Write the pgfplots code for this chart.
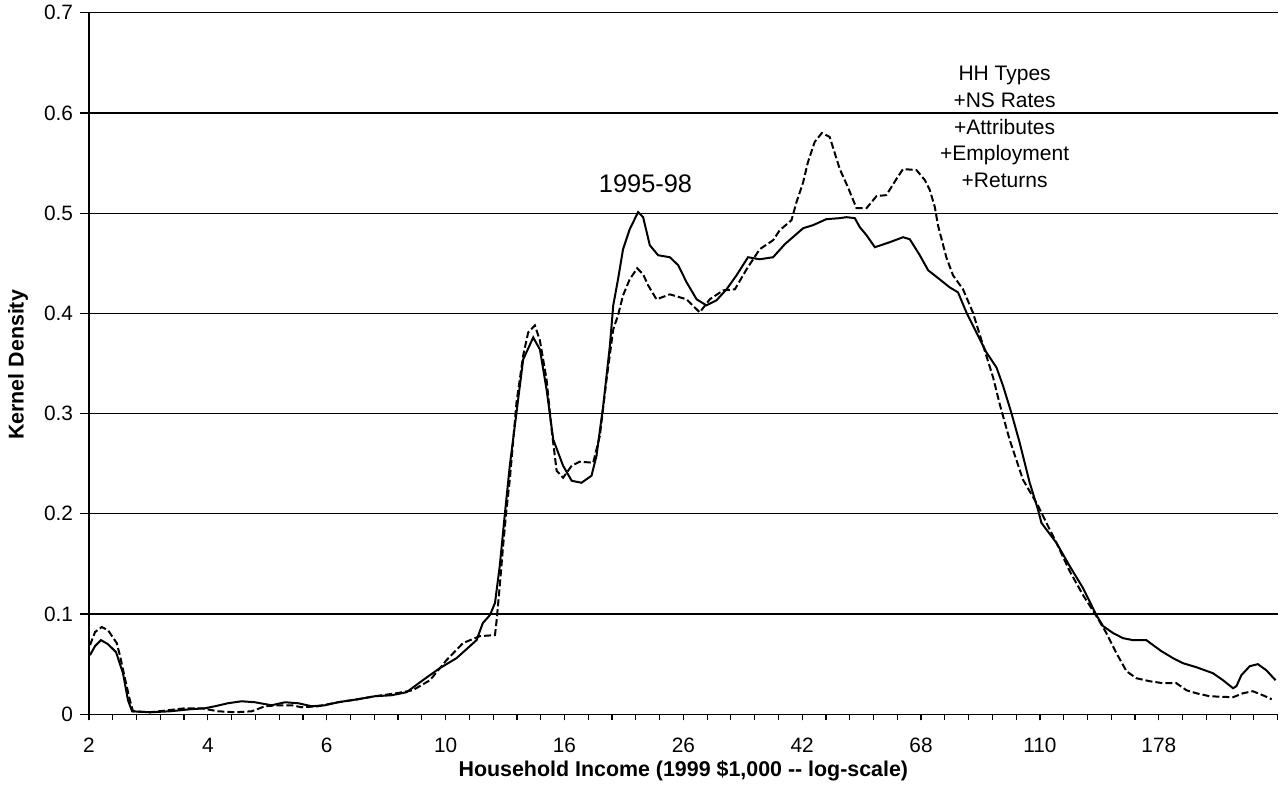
\documentclass[border=0pt]{standalone}
\usepackage{fontspec}
\setmainfont{Liberation Sans}
\usepackage{pgfplots}
\pgfplotsset{compat=1.18}
\begin{document}
\begin{tikzpicture}
\begin{axis}[
  name=ax,
  scale only axis,
  width=594.35pt, height=350.8pt,
  xmin=-0.042, xmax=49.71,
  ymin=0, ymax=0.7,
  axis x line*=bottom, axis y line*=left,
  axis line style={-, black, line width=0.65pt},
  ytick={0,0.1,0.2,0.3,0.4,0.5,0.6,0.7},
  yticklabels={0,0.1,0.2,0.3,0.4,0.5,0.6,0.7},
  xtick={-0.042,4.933,9.908,14.883,19.858,24.833,29.808,34.783,39.758,44.733},
  xticklabels={2,4,6,10,16,26,42,68,110,178},
  minor xtick={-0.042,0.953,...,49.72},
  ymajorgrids,
  grid style={black, line width=0.6pt},
  tick align=outside,
  major tick length=4.5pt,
  minor tick length=3pt,
  xtick style={/pgfplots/major tick length=3pt},
  tick style={black, line width=0.6pt},
  /pgf/number format/assume math mode=true,
  ticklabel style={font=\fontsize{10.4}{12}\selectfont},
  xticklabel style={yshift=-4pt},
  xlabel={\textbf{Household Income (1999 \$1,000 {-}{-} log-scale)}},
  ylabel={\textbf{Kernel Density}},
  label style={font=\fontsize{10.7}{12.5}\selectfont},
  xlabel style={at={(axis description cs:0.5,-0.081)}, anchor=center},
  ylabel style={at={(axis description cs:-0.0597,0.498)}, anchor=center},
  clip=false,
]
\addplot[black, line width=1pt] coordinates {
(0,0.059)(0.21,0.068)(0.46,0.074)(0.75,0.070)(1.09,0.062)(1.38,0.041)(1.59,0.014)(1.76,0.003)(2.51,0.002)(3.35,0.003)(4.18,0.005)(4.81,0.006)(5.23,0.008)(5.77,0.011)(6.35,0.013)(6.90,0.012)(7.60,0.009)(8.16,0.012)(8.72,0.011)(9.28,0.008)(9.83,0.009)(10.38,0.012)(11.21,0.015)(11.92,0.018)(12.62,0.019)(13.25,0.022)(13.93,0.034)(14.64,0.046)(15.34,0.056)(16.18,0.074)(16.44,0.091)(16.74,0.099)(16.95,0.111)(17.15,0.148)(17.36,0.199)(17.57,0.248)(17.85,0.301)(18.13,0.354)(18.55,0.376)(18.83,0.364)(19.11,0.324)(19.39,0.274)(19.80,0.248)(20.16,0.233)(20.57,0.231)(20.99,0.238)(21.20,0.258)(21.48,0.308)(21.76,0.368)(21.90,0.408)(22.10,0.434)(22.31,0.464)(22.59,0.484)(22.94,0.501)(23.15,0.496)(23.43,0.468)(23.78,0.458)(24.27,0.456)(24.62,0.448)(24.97,0.431)(25.39,0.414)(25.80,0.408)(26.22,0.413)(26.64,0.424)(27.06,0.438)(27.54,0.456)(28.03,0.454)(28.59,0.456)(29.08,0.469)(29.85,0.485)(30.26,0.488)(30.82,0.494)(31.38,0.495)(31.66,0.496)(32.01,0.495)(32.22,0.486)(32.50,0.478)(32.85,0.466)(33.47,0.471)(34.03,0.476)(34.31,0.474)(34.73,0.458)(35.08,0.443)(35.56,0.434)(35.98,0.426)(36.33,0.421)(36.68,0.401)(37.10,0.381)(37.52,0.361)(37.94,0.346)(38.21,0.328)(38.56,0.301)(38.91,0.271)(39.33,0.231)(39.68,0.204)(39.82,0.191)(40.45,0.171)(41.00,0.148)(41.56,0.126)(42.12,0.099)(42.40,0.088)(42.82,0.081)(43.23,0.076)(43.65,0.074)(44.21,0.074)(44.84,0.063)(45.33,0.056)(45.74,0.051)(46.30,0.047)(47.00,0.041)(47.42,0.034)(47.84,0.026)(47.98,0.028)(48.19,0.039)(48.54,0.048)(48.88,0.050)(49.23,0.044)(49.62,0.034)
};
\addplot[black, line width=1pt, dash pattern=on 3.5pt off 1.5pt] coordinates {
(0,0.069)(0.21,0.082)(0.49,0.087)(0.75,0.084)(1.12,0.071)(1.26,0.058)(1.46,0.036)(1.67,0.014)(1.80,0.003)(2.51,0.002)(3.26,0.004)(3.97,0.006)(4.67,0.006)(5.36,0.003)(6.07,0.002)(6.77,0.003)(7.32,0.008)(7.87,0.009)(8.44,0.009)(8.86,0.007)(9.54,0.008)(10.38,0.012)(11.21,0.015)(11.92,0.018)(12.83,0.021)(13.51,0.024)(14.23,0.034)(14.92,0.054)(15.61,0.071)(16.32,0.078)(16.95,0.079)(17.02,0.094)(17.15,0.128)(17.29,0.168)(17.43,0.204)(17.57,0.234)(17.85,0.311)(18.13,0.358)(18.34,0.381)(18.62,0.388)(18.83,0.373)(19.11,0.334)(19.32,0.284)(19.53,0.243)(19.80,0.236)(20.16,0.248)(20.50,0.252)(21.06,0.251)(21.34,0.278)(21.62,0.334)(21.90,0.384)(22.10,0.398)(22.31,0.418)(22.59,0.434)(22.90,0.445)(23.15,0.439)(23.36,0.428)(23.71,0.414)(24.27,0.419)(24.69,0.416)(24.97,0.414)(25.52,0.401)(25.94,0.414)(26.50,0.423)(26.99,0.424)(27.48,0.444)(28.03,0.464)(28.59,0.473)(28.87,0.483)(29.36,0.493)(29.57,0.511)(29.85,0.531)(30.05,0.551)(30.33,0.571)(30.63,0.580)(30.96,0.576)(31.38,0.544)(31.72,0.526)(32.08,0.505)(32.50,0.505)(32.92,0.517)(33.33,0.518)(33.75,0.534)(34.03,0.544)(34.59,0.543)(34.94,0.533)(35.15,0.523)(35.36,0.506)(35.49,0.488)(35.84,0.456)(36.12,0.438)(36.54,0.424)(36.95,0.401)(37.38,0.368)(37.80,0.336)(38.08,0.309)(38.49,0.274)(39.05,0.234)(39.68,0.208)(40.03,0.191)(40.45,0.171)(41.00,0.143)(41.56,0.119)(42.12,0.098)(42.54,0.081)(42.96,0.061)(43.38,0.043)(43.79,0.036)(44.35,0.033)(44.91,0.031)(45.47,0.031)(45.89,0.024)(46.30,0.021)(46.86,0.018)(47.84,0.017)(48.26,0.021)(48.67,0.023)(49.09,0.019)(49.46,0.015)
};
\node[font=\fontsize{12.7}{15}\selectfont, anchor=center] at (axis cs:23.25,0.529) {1995-98};
\node[font=\fontsize{10.5}{13.35}\selectfont, align=center, anchor=center] at (axis cs:38.28,0.586) {HH Types\\+NS Rates\\+Attributes\\+Employment\\+Returns};
\end{axis}
\pgfresetboundingbox
\path ([xshift=-44.5pt,yshift=-45.35pt]ax.south west) rectangle ([xshift=4.15pt,yshift=6.35pt]ax.north east);
\end{tikzpicture}
\end{document}
